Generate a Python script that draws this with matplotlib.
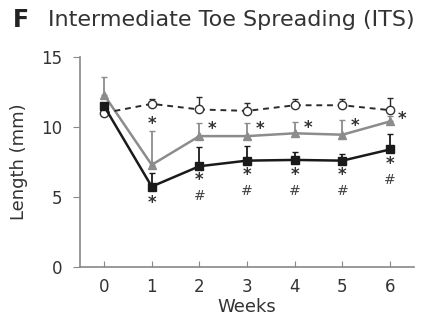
import matplotlib
matplotlib.use("Agg")
import matplotlib.pyplot as plt
import numpy as np

weeks = [0, 1, 2, 3, 4, 5, 6]

# control (dashed, open circles)
ctrl = [11.0, 11.65, 11.25, 11.15, 11.55, 11.55, 11.2]
ctrl_top = [11.0, 12.0, 12.15, 11.7, 12.0, 12.0, 12.05]
# gray triangles
gray = [12.3, 7.3, 9.35, 9.35, 9.55, 9.45, 10.4]
gray_top = [13.6, 9.7, 10.3, 10.3, 10.35, 10.5, 10.8]
# black squares
black = [11.5, 5.75, 7.2, 7.6, 7.65, 7.6, 8.4]
black_top = [11.5, 6.75, 8.55, 8.65, 8.25, 8.1, 9.5]

# significance marks
gray_stars = [(1, 10.2, 0.0), (2, 9.85, 0.27), (3, 9.85, 0.27), (4, 9.95, 0.27),
              (5, 10.05, 0.27), (6, 10.55, 0.25)]
black_stars = [(1, 4.6), (2, 6.25), (3, 6.55), (4, 6.55), (5, 6.55), (6, 7.35)]
hashes = [(2, 5.1), (3, 5.4), (4, 5.4), (5, 5.4), (6, 6.2)]

fig = plt.figure(figsize=(4.22, 3.29), dpi=100)
ax = fig.add_axes([0.19, 0.188, 0.791, 0.639])

def up_err(vals, tops):
    v = np.array(vals)
    return [np.zeros_like(v), np.array(tops) - v]

ax.errorbar(weeks, ctrl, yerr=up_err(ctrl, ctrl_top), color="#2a2a2a",
            ls=(0, (3, 2.5)), lw=1.4, marker="o", ms=6, mfc="white",
            mec="#333333", mew=1.0, capsize=2.5, elinewidth=1.0, zorder=3)
ax.errorbar(weeks, gray, yerr=up_err(gray, gray_top), color="#8c8c8c",
            lw=1.8, marker="^", ms=5.5, capsize=2.5, elinewidth=1.3, zorder=2)
ax.errorbar(weeks, black, yerr=up_err(black, black_top), color="#1a1a1a",
            lw=1.8, marker="s", ms=5.5, capsize=2.5, elinewidth=1.3, zorder=4)

for w, y, dx in gray_stars:
    ax.text(w + dx, y, "*", ha="center", va="center", fontsize=12,
            fontweight="bold", color="#333333")
for w, y in black_stars:
    ax.text(w, y, "*", ha="center", va="center", fontsize=12,
            fontweight="bold", color="#333333")
for w, y in hashes:
    ax.text(w, y, "#", ha="center", va="center", fontsize=10,
            color="#444444")

ax.set_xlim(-0.5, 6.5)
ax.set_ylim(0, 15)
ax.set_xticks(weeks)
ax.set_yticks([0, 5, 10, 15])
for s in ["top", "right"]:
    ax.spines[s].set_visible(False)
for s in ["left", "bottom"]:
    ax.spines[s].set_color("#888888")
    ax.spines[s].set_linewidth(1.2)
ax.tick_params(axis="x", direction="in", length=4, color="#888888",
               labelsize=12, labelcolor="#333333", pad=8)
ax.tick_params(axis="y", direction="out", length=5, color="#888888",
               labelsize=12, labelcolor="#333333", pad=8)
ax.set_xlabel("Weeks", fontsize=13, color="#333333", labelpad=1)
ax.set_ylabel("Length (mm)", fontsize=13, color="#333333", labelpad=9)

fig.text(0.03, 0.94, "F", fontsize=17, fontweight="bold", color="#222222",
         va="center")
fig.text(0.113, 0.94, "Intermediate Toe Spreading (ITS)", fontsize=16,
         color="#333333", va="center")

fig.savefig("out.png", dpi=100)
